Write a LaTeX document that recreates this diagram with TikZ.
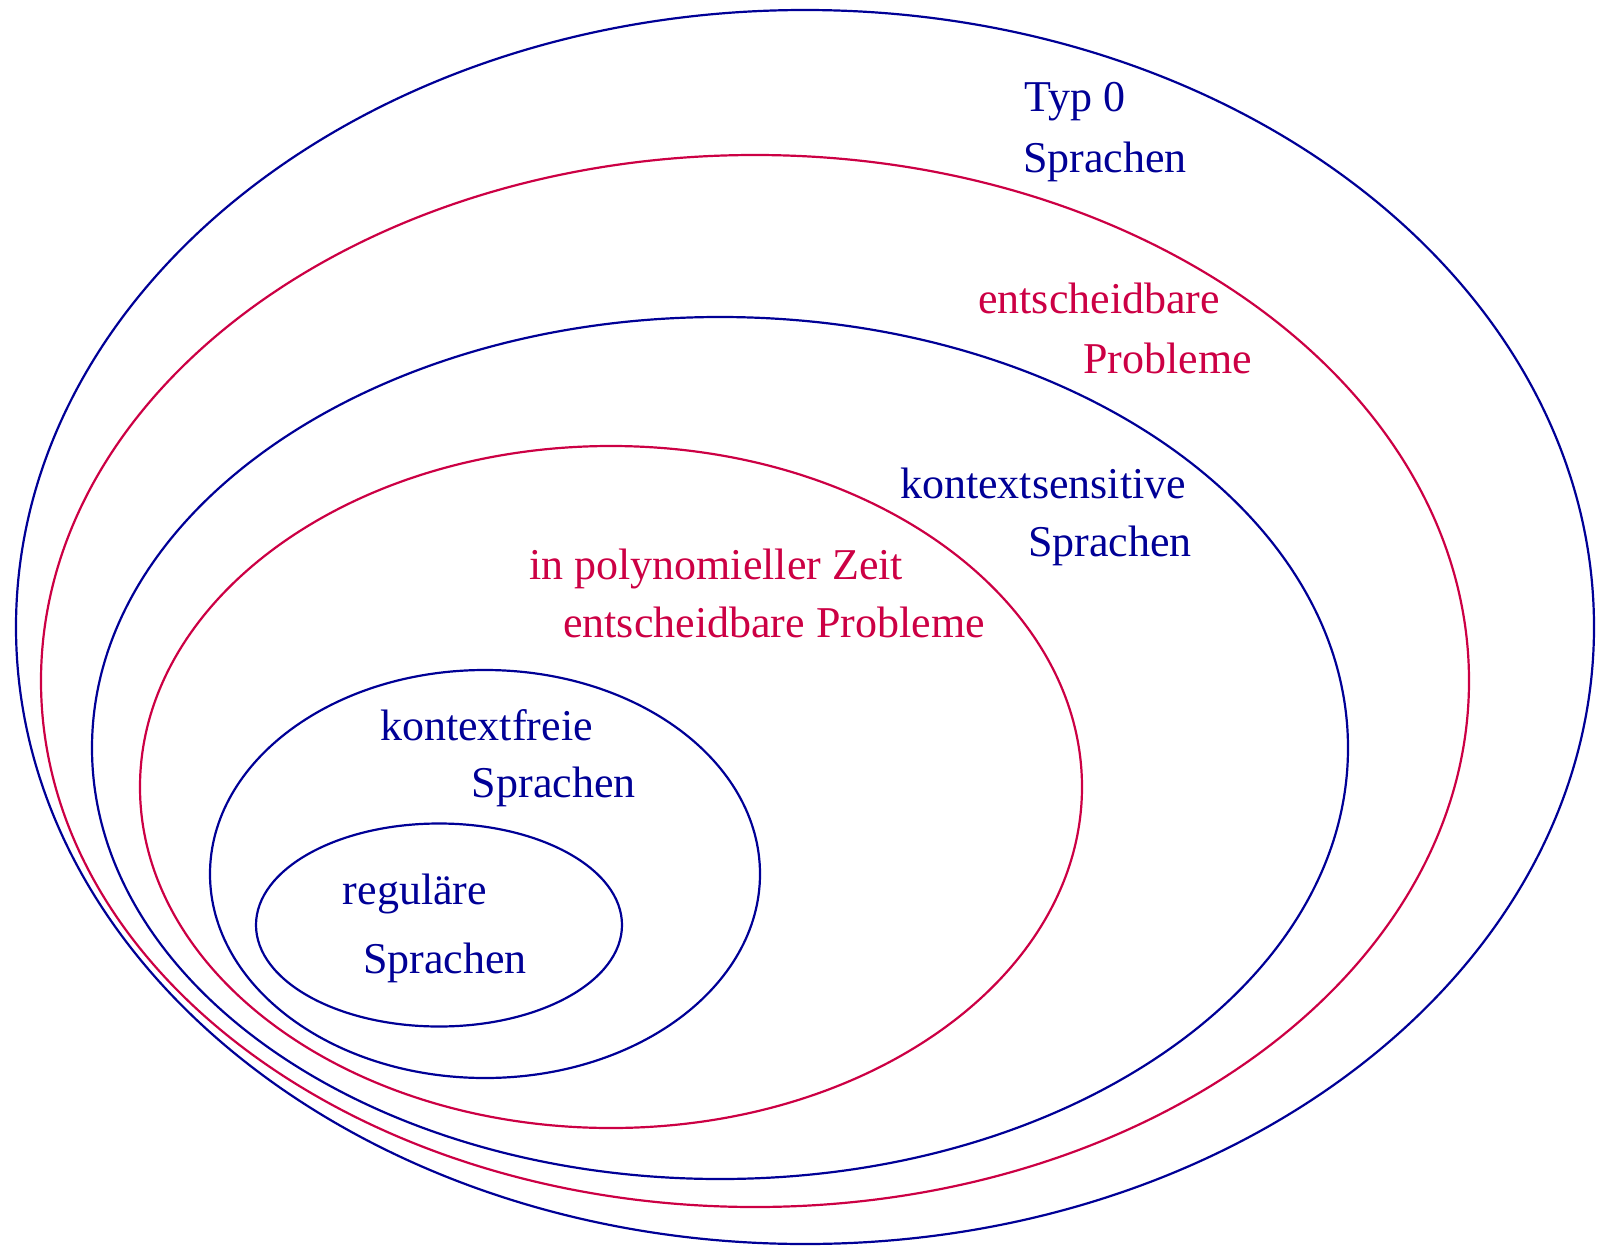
\documentclass[tikz,border=0pt]{standalone}
\usepackage{fontspec}
\setmainfont{Liberation Serif}
\definecolor{setblue}{RGB}{0,0,150}
\definecolor{setred}{RGB}{204,0,68}
\tikzset{
  blueset/.style={draw=setblue, line width=2.2pt},
  redset/.style={draw=setred, line width=2.2pt},
  bluelab/.style={anchor=base west, inner sep=0pt, text=setblue, font=\fontsize{44}{52}\selectfont},
  redlab/.style={anchor=base west, inner sep=0pt, text=setred, font=\fontsize{44}{52}\selectfont}
}
\begin{document}
\begin{tikzpicture}[x=1pt,y=-1pt]
\useasboundingbox (0,0) rectangle (1599,1250);
% ellipses
\draw[blueset] (805,627) ellipse [x radius=789, y radius=617];
\draw[redset]  (755,681) ellipse [x radius=714, y radius=526];
\draw[blueset] (720,748) ellipse [x radius=628, y radius=431];
\draw[redset]  (611,787) ellipse [x radius=471, y radius=341];
\draw[blueset] (485,874) ellipse [x radius=275, y radius=204];
\draw[blueset] (439,925) ellipse [x radius=183, y radius=101.5];
% labels
\node[bluelab] (t0a) at (1024,111.7) {Typ 0};
\node[bluelab] (t0b) at (1023,172.7) {Sprachen};
\node[redlab] (eda) at (978,313) {entscheidbare};
\node[redlab] (edb) at (1083,373) {Probleme};
\node[bluelab] (ksa) at (900,498) {kontextsensitive};
\node[bluelab] (ksb) at (1028,556) {Sprachen};
\node[redlab] (pa) at (529,579) {in polynomieller Zeit};
\node[redlab] (pb) at (563,637) {entscheidbare Probleme};
\node[bluelab] (kfa) at (380,740) {kontextfreie};
\node[bluelab] (kfb) at (471.7,797) {Sprachen};
\node[bluelab] (rga) at (342.7,904) {reguläre};
\node[bluelab] (rgb) at (363,973) {Sprachen};
\end{tikzpicture}
\end{document}
